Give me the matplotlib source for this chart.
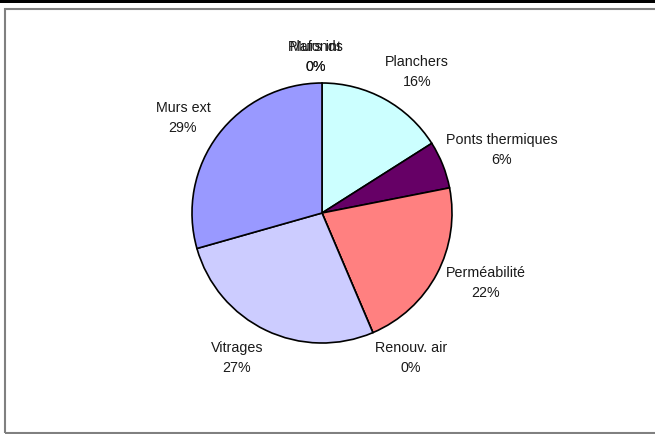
import matplotlib.pyplot as plt
import numpy as np
from matplotlib.patches import Rectangle

labels = ["Plafonds", "Murs int", "Planchers", "Ponts thermiques", "Perméabilité",
          "Renouv. air", "Vitrages", "Murs ext"]
values = [0.0, 0.0, 16.0, 5.9, 21.7, 0.0, 27.0, 29.4]
colors = ["#9999FF", "#993366", "#CCFFFF", "#660066", "#FF8080",
          "#0066CC", "#CCCCFF", "#9999FF"]

plt.rcParams['font.family'] = ['Liberation Sans', 'DejaVu Sans']

W, H = 655, 434
fig = plt.figure(figsize=(W / 100, H / 100), dpi=100)

# frame like the spreadsheet chart area
fig.patches.append(Rectangle((0, (H - 3) / H), 1, 3 / H, transform=fig.transFigure,
                             facecolor="black", edgecolor="none"))
fig.patches.append(Rectangle((5 / W, 1 / H), (W + 10) / W, (H - 10) / H,
                             transform=fig.transFigure, facecolor="none",
                             edgecolor="#808080", linewidth=1.5))

cx, cy, half = 322, 213, 200
r = 130
ax = fig.add_axes([(cx - half) / W, (H - cy - half) / H, 2 * half / W, 2 * half / H])

wedges, _ = ax.pie(values, colors=colors, startangle=90, counterclock=False,
                   wedgeprops=dict(edgecolor="black", linewidth=1.2))

lim = half / r
ax.set_xlim(-lim, lim)
ax.set_ylim(-lim, lim)
ax.set_aspect("equal")
ax.axis("off")

# label placement (in pie radii), Excel style
label_pos = {
    "Plafonds": (-0.05, 1.20), "Murs int": (-0.05, 1.20),
    "Planchers": (0.73, 1.085), "Ponts thermiques": (1.385, 0.485),
    "Perméabilité": (1.26, -0.54), "Renouv. air": (0.685, -1.115),
    "Vitrages": (-0.654, -1.115), "Murs ext": (-1.07, 0.73),
}

total = sum(values)
for lab, v in zip(labels, values):
    x, y = label_pos[lab]
    ax.text(x, y, "%s\n%.0f%%" % (lab, 100 * v / total), ha="center", va="center",
            fontsize=10.3, color="#1a1a1a", linespacing=1.5)

fig.savefig("out.png", dpi=100)
